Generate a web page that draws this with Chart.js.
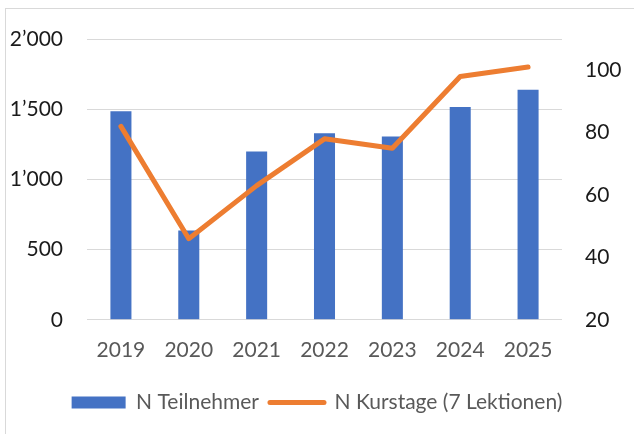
<!DOCTYPE html>
<html>
<head>
<meta charset="utf-8">
<script src="https://cdn.jsdelivr.net/npm/chart.js"></script>
<style>
  html, body { margin: 0; padding: 0; background: #ffffff; }
  #wrap { position: relative; width: 634px; height: 434px; overflow: hidden; }
  #frame { position: absolute; left: 5px; top: 8px; width: 700px; height: 500px;
           border-left: 1px solid #d9d9d9; border-top: 1px solid #d9d9d9; }
  canvas { position: absolute; left: 0; top: 0; }
</style>
</head>
<body>
<div id="wrap">
  <div id="frame"></div>
  <canvas id="chart" width="634" height="434"></canvas>
</div>
<script>
const years = ['2019', '2020', '2021', '2022', '2023', '2024', '2025'];
const participants = [1485, 636, 1198, 1329, 1305, 1516, 1638];
const courseDays = [82, 46, 63, 78, 75, 98, 101];

const THEME = {
  blue: '#4472C4',
  orange: '#ED7D31',
  grid: '#d9d9d9',
  axisText: '#1a1a1a',
  softText: '#595959'
};

const FONT = 'Lato, "Open Sans", sans-serif';

// thousands separator like the original: 1’500
function swissFormat(v) {
  return String(v).replace(/\B(?=(\d{3})+(?!\d))/g, '\u2019');
}

const ctx = document.getElementById('chart').getContext('2d');

new Chart(ctx, {
  type: 'bar',
  data: {
    labels: years,
    datasets: [{
      type: 'bar',
      label: 'N Teilnehmer',
      data: participants,
      backgroundColor: THEME.blue,
      borderWidth: 0,
      barPercentage: 0.31,
      categoryPercentage: 1,
      yAxisID: 'y',
      order: 2
    }, {
      type: 'line',
      label: 'N Kurstage (7 Lektionen)',
      data: courseDays,
      borderColor: THEME.orange,
      backgroundColor: THEME.orange,
      borderWidth: 5,
      borderCapStyle: 'round',
      borderJoinStyle: 'round',
      pointRadius: 0,
      tension: 0,
      yAxisID: 'y1',
      order: 1
    }]
  },
  options: {
    responsive: false,
    animation: false,
    layout: { padding: { top: 39, left: 0, right: 0, bottom: 11 } },
    plugins: {
      tooltip: { enabled: false },
      legend: {
        position: 'bottom',
        labels: {
          color: THEME.softText,
          font: { family: FONT, size: 21 },
          usePointStyle: true,
          pointStyleWidth: 54,
          boxHeight: 12,
          padding: 11,
          sort: (a, b) => a.datasetIndex - b.datasetIndex,
          generateLabels: function(chart) {
            const items = Chart.defaults.plugins.legend.labels.generateLabels(chart);
            items.forEach(item => {
              if (item.datasetIndex === 0) {
                item.pointStyle = 'rect';
                item.lineWidth = 0;
              } else {
                item.pointStyle = 'line';
                item.lineWidth = 5;
                item.lineCap = 'round';
              }
            });
            return items;
          }
        }
      }
    },
    scales: {
      x: {
        grid: { display: false, drawTicks: false },
        border: { display: false },
        ticks: {
          color: THEME.softText,
          font: { family: FONT, size: 21 },
          padding: 18,
          maxRotation: 0
        }
      },
      y: {
        position: 'left',
        min: 0,
        max: 2000,
        grid: { color: THEME.grid, lineWidth: 1, drawTicks: false },
        border: { display: false },
        ticks: {
          stepSize: 500,
          color: THEME.axisText,
          font: { family: FONT, size: 21 },
          padding: 24,
          callback: v => swissFormat(v)
        },
        afterFit: scale => { scale.width = 87; }
      },
      y1: {
        position: 'right',
        min: 20,
        max: 110,
        grid: { display: false, drawTicks: false },
        border: { display: false },
        ticks: {
          stepSize: 20,
          color: THEME.axisText,
          font: { family: FONT, size: 21 },
          padding: 23
        },
        afterBuildTicks: axis => {
          axis.ticks = axis.ticks.filter(t => t.value <= 100);
        },
        afterFit: scale => { scale.width = 72; }
      }
    }
  }
});
</script>
</body>
</html>
